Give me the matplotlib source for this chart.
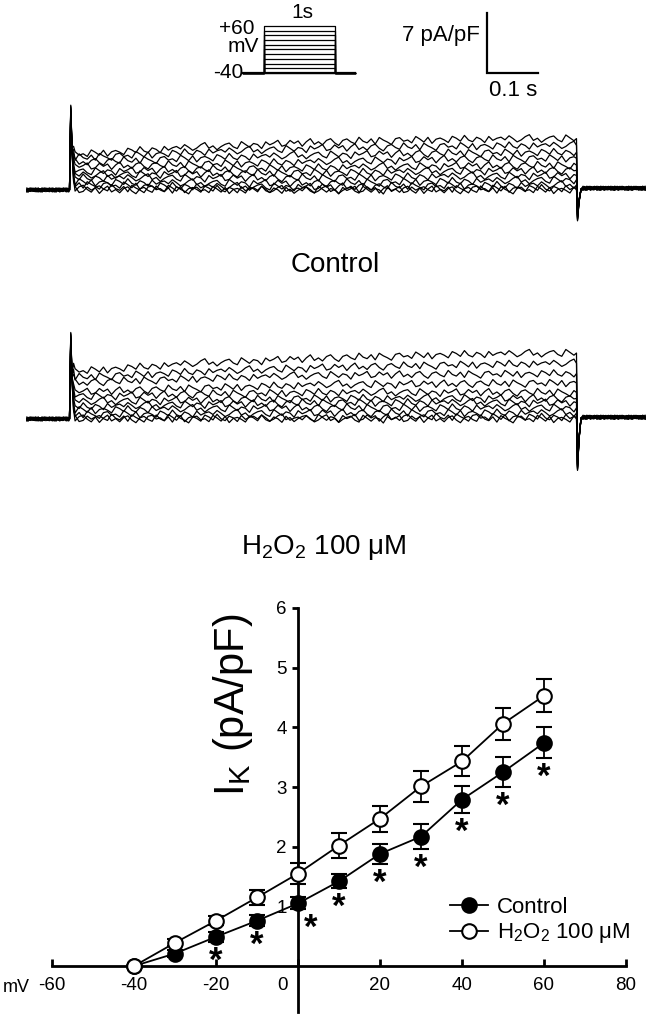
import numpy as np
import matplotlib
matplotlib.use("Agg")
import matplotlib.pyplot as plt
from matplotlib.lines import Line2D

plt.rcParams['font.family'] = ['Liberation Sans', 'DejaVu Sans']
plt.rcParams['mathtext.fontset'] = 'custom'
plt.rcParams['mathtext.rm'] = 'Liberation Sans'
plt.rcParams['mathtext.it'] = 'Liberation Sans:italic'
plt.rcParams['mathtext.bf'] = 'Liberation Sans:bold'
plt.rcParams['axes.unicode_minus'] = False

W, H = 646, 1025

# ---------------------------------------------------------------- I-V data
volt_mv = [-40, -30, -20, -10, 0, 10, 20, 30, 40, 50, 60]
ctrl_mean = [0.0, 0.21, 0.49, 0.76, 1.05, 1.42, 1.88, 2.17, 2.79, 3.25, 3.74]
ctrl_sem = [0.0, 0.06, 0.08, 0.09, 0.10, 0.12, 0.17, 0.21, 0.22, 0.25, 0.26]
h2o2_mean = [0.0, 0.39, 0.76, 1.15, 1.55, 2.02, 2.47, 3.01, 3.43, 4.06, 4.53]
h2o2_sem = [0.0, 0.06, 0.08, 0.12, 0.17, 0.21, 0.22, 0.26, 0.25, 0.27, 0.28]
sig_mv = [-20, -10, 0, 10, 20, 30, 40, 50, 60]

xticks = [-60, -40, -20, 0, 20, 40, 60, 80]
xtick_labels = ['-60', '-40', '-20', '', '20', '40', '60', '80']
yticks = [1, 2, 3, 4, 5, 6]

# ---------------------------------------------------------------- current traces (pA/pF)
step_mv = [60, 50, 40, 30, 20, 10, 0, -10, -20, -30, -40]
sample_ms = [0, 250, 500, 750, 1000]
ctrl_levels = [
    [4.1, 5.0, 5.6, 5.9, 6.0],
    [3.7, 4.4, 4.9, 5.1, 5.2],
    [3.2, 3.7, 4.1, 4.3, 4.4],
    [2.7, 3.0, 3.3, 3.6, 3.7],
    [2.1, 2.4, 2.6, 2.8, 2.9],
    [1.7, 1.9, 2.0, 2.2, 2.3],
    [1.4, 1.4, 1.4, 1.6, 1.7],
    [0.9, 0.8, 0.8, 1.0, 1.2],
    [0.6, 0.4, 0.35, 0.5, 0.6],
    [0.2, 0.1, 0.0, 0.1, 0.2],
    [0.0, 0.0, 0.0, 0.0, 0.0],
]
h2o2_levels = [
    [5.5, 6.5, 7.1, 7.5, 7.7],
    [4.8, 5.5, 6.0, 6.3, 6.5],
    [4.2, 4.7, 5.1, 5.2, 5.3],
    [3.1, 3.6, 4.0, 4.1, 4.2],
    [2.6, 2.9, 3.1, 3.1, 3.1],
    [2.0, 2.2, 2.4, 2.4, 2.4],
    [1.4, 1.7, 1.9, 1.9, 1.9],
    [1.0, 1.2, 1.3, 1.3, 1.3],
    [0.5, 0.6, 0.7, 0.7, 0.7],
    [0.1, 0.1, 0.1, 0.2, 0.2],
    [0.0, 0.0, 0.0, 0.0, 0.0],
]
ctrl_peak, ctrl_tail = 9.9, -3.6
h2o2_peak, h2o2_tail = 10.1, -6.0

# recording noise (pA/pF)
jitter = [0.25, -0.10, 0.42, 0.05, -0.38, -0.12, 0.30, 0.55, -0.20, 0.08,
          -0.45, -0.05, 0.22, 0.36, -0.15, -0.40, 0.48, 0.10, -0.28, 0.18,
          0.02, -0.52, 0.32, -0.08, 0.14, 0.46, -0.33, -0.18, 0.38, -0.02,
          0.27, -0.44, 0.12, 0.50, -0.25, 0.06, -0.36, 0.20, 0.41, -0.14,
          -0.48, 0.16, 0.34, -0.06, -0.30, 0.52, 0.00, -0.22, 0.28, -0.40,
          0.44, 0.09, -0.17, -0.50, 0.24, 0.37, -0.11, 0.04, -0.34, 0.47,
          0.13, -0.27, 0.33, -0.46, 0.07, 0.21, -0.04, -0.39, 0.40, 0.15,
          -0.23, 0.51, -0.09, -0.32, 0.26, 0.03, -0.43, 0.35, -0.16, 0.11]

protocol_mv = [-40, -30, -20, -10, 0, 10, 20, 30, 40, 50, 60]

# ---------------------------------------------------------------- layout helpers
PX_PER_MS = 0.507
PX_PER_UNIT = 8.57
X_ONSET = 70


def px_rect(x0, y0, x1, y1):
    return [x0 / W, 1 - y1 / H, (x1 - x0) / W, (y1 - y0) / H]


def fpx(x, y):
    return x / W, 1 - y / H


def trace_axes(fig, y_top, y_bot, y_base):
    ax = fig.add_axes(px_rect(0, y_top, W, y_bot))
    ax.set_xlim(-X_ONSET / PX_PER_MS, (W - X_ONSET) / PX_PER_MS)
    ax.set_ylim((y_base - y_bot) / PX_PER_UNIT, (y_base - y_top) / PX_PER_UNIT)
    ax.axis('off')
    return ax


def build_trace(levels, k, peak, tail):
    jit = np.roll(np.resize(np.array(jitter), 400), 11 * k + 5)
    t_pre = np.arange(-85, -2, 2.5)
    t_on = np.arange(10, 996, 8)
    t_post = np.arange(1012, 1135, 2.5)
    y_pre = 0.45 * jit[:len(t_pre)]
    y_on = np.interp(t_on, sample_ms, levels) + 0.9 * jit[60:60 + len(t_on)]
    y_post = 0.2 + 0.45 * jit[260:260 + len(t_post)]
    t = np.concatenate([t_pre, [-1, 1.5, 4, 7], t_on, [999, 1001, 1004, 1008], t_post])
    y = np.concatenate([y_pre, [0, peak, 0.5 * peak, levels[0] + 1.0], y_on,
                        [levels[-1], tail, 0.4 * tail, 0.1], y_post])
    return t, y


def draw_traces(ax, all_levels, peak, tail):
    for k, levels in enumerate(all_levels):
        t, y = build_trace(levels, k, peak - 0.12 * k, tail + 0.08 * k)
        ax.plot(t, y, color='black', lw=0.9)


fig = plt.figure(figsize=(W / 100, H / 100), dpi=100)

# ---------------------------------------------------------------- traces
ax_c = trace_axes(fig, 0, 232, 190)
draw_traces(ax_c, ctrl_levels, ctrl_peak, ctrl_tail)

# scale bar: 7 pA/pF, 0.1 s
bar_t = (487 - X_ONSET) / PX_PER_MS
bar_y = (190 - 73) / PX_PER_UNIT
ax_c.plot([bar_t, bar_t, bar_t + 100], [bar_y + 7, bar_y, bar_y],
          color='black', lw=1.6, solid_joinstyle='miter')
fig.text(*fpx(441, 36), '7 pA/pF', fontsize=16, ha='center', va='center')
fig.text(*fpx(513, 91), '0.1 s', fontsize=16, ha='center', va='center')

ax_h = trace_axes(fig, 300, 495, 419)
draw_traces(ax_h, h2o2_levels, h2o2_peak, h2o2_tail)

fig.text(*fpx(335, 265), 'Control', fontsize=20, ha='center', va='center')
fig.text(*fpx(324, 548), 'H$_2$O$_2$ 100 \u03bcM', fontsize=20, ha='center', va='center')

# ---------------------------------------------------------------- voltage protocol
ax_p = fig.add_axes(px_rect(243, 26, 355, 73))
ax_p.set_xlim(-296, 1282)
ax_p.set_ylim(-40, 60)
ax_p.axis('off')
for v in protocol_mv:
    ax_p.plot([-296, 0, 0, 1000, 1000, 1282], [-40, -40, v, v, -40, -40],
              color='black', lw=0.9, clip_on=False)
ax_p.plot([-296, 1282], [-40, -40], color='black', lw=1.6, clip_on=False)
fig.text(*fpx(302, 13), '1s', fontsize=15, ha='center', va='center')
fig.text(*fpx(237, 29), '+60', fontsize=15, ha='center', va='center')
fig.text(*fpx(243, 47), 'mV', fontsize=15, ha='center', va='center')
fig.text(*fpx(228, 72), '-40', fontsize=15, ha='center', va='center')

# ---------------------------------------------------------------- I-V curve
ax = fig.add_axes(px_rect(52, 608, 626, 1012))
ax.set_xlim(-60, 80)
ax.set_ylim(-0.77, 6)
for side in ['top', 'right']:
    ax.spines[side].set_visible(False)
ax.spines['left'].set_position(('data', 0))
ax.spines['bottom'].set_position(('data', 0))
for side in ['left', 'bottom']:
    ax.spines[side].set_linewidth(2.0)

ax.set_xticks(xticks)
ax.set_xticklabels(xtick_labels)
ax.set_yticks(yticks)
ax.tick_params(axis='x', direction='in', length=5, width=2, labelsize=13.5, pad=8)
ax.tick_params(axis='y', direction='out', length=4, width=2, labelsize=13.5, pad=4)
ax.annotate('0', xy=(0, 0), xytext=(-11, -8), textcoords='offset points',
            ha='center', va='top', fontsize=13.5)
fig.text(*fpx(16, 988), 'mV', fontsize=13, ha='center', va='center')

err_kw = dict(color='black', ms=10.5, mew=1.5, lw=1.3, elinewidth=1.3,
              capsize=5.5, capthick=1.6, clip_on=False)
ax.errorbar(volt_mv, ctrl_mean, yerr=ctrl_sem, fmt='-o', mfc='black', zorder=3, **err_kw)
ax.errorbar(volt_mv, h2o2_mean, yerr=h2o2_sem, fmt='-o', mfc='white', zorder=4, **err_kw)

for v in sig_mv:
    i = volt_mv.index(v)
    dx = 9 if v == 0 else 0
    ax.annotate('*', xy=(v, ctrl_mean[i] - ctrl_sem[i]), xytext=(dx, -2),
                textcoords='offset points', ha='center', va='top',
                fontsize=25, fontweight='bold')

fig.text(*fpx(233, 705), 'I$_\\mathrm{K}$ (pA/pF)', fontsize=30, rotation=90,
         ha='center', va='center')

handles = [
    Line2D([], [], color='black', marker='o', mfc='black', ms=10.5, mew=1.5, lw=1.3),
    Line2D([], [], color='black', marker='o', mfc='white', ms=10.5, mew=1.5, lw=1.3),
]
ax.legend(handles, ['Control', 'H$_2$O$_2$ 100 \u03bcM'], loc='upper left',
          bbox_to_anchor=fpx(450, 897), bbox_transform=fig.transFigure,
          frameon=False, fontsize=16, borderpad=0, borderaxespad=0,
          handlelength=1.7, handletextpad=0.4, labelspacing=0.15)

fig.savefig('out.png', dpi=100)
